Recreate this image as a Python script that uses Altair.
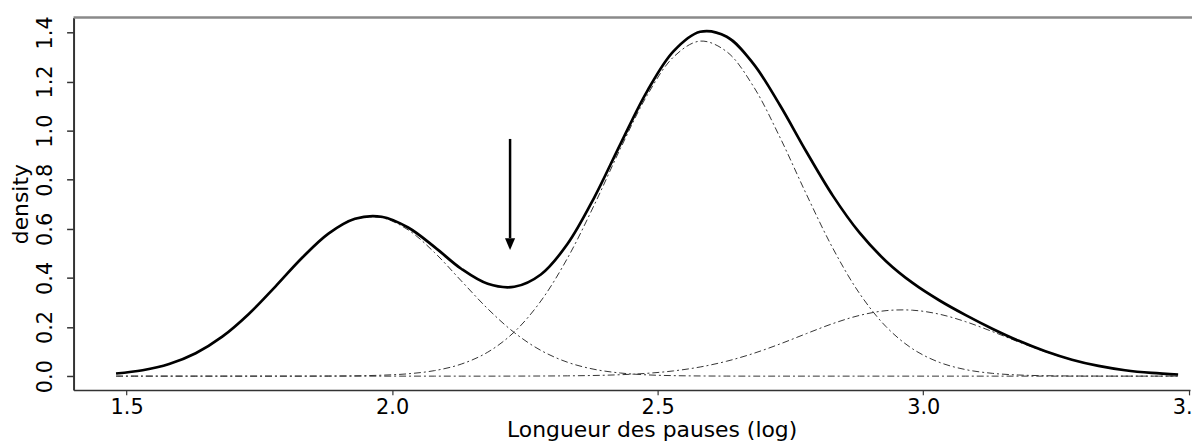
import altair as alt
import pandas as pd

# x grid (log pause length)
x_grid = [1.48, 1.53, 1.58, 1.63, 1.68, 1.73, 1.78, 1.83, 1.88, 1.93,
          1.98, 2.03, 2.08, 2.13, 2.18, 2.23, 2.28, 2.33, 2.38, 2.43,
          2.48, 2.53, 2.58, 2.63, 2.68, 2.73, 2.78, 2.83, 2.88, 2.93,
          2.98, 3.03, 3.08, 3.13, 3.18, 3.23, 3.28, 3.33, 3.38, 3.43, 3.48]

# mixture density (solid line)
total = [0.0107, 0.0241, 0.0495, 0.0933, 0.1607, 0.2532, 0.3648, 0.4811, 0.5805, 0.6410,
         0.6492, 0.6053, 0.5254, 0.4373, 0.3760, 0.3640, 0.4140, 0.5379, 0.7254, 0.9462,
         1.1599, 1.3236, 1.4025, 1.3823, 1.2731, 1.1043, 0.9139, 0.7342, 0.5842, 0.4682,
         0.3796, 0.3090, 0.2483, 0.1932, 0.1437, 0.1012, 0.0670, 0.0416, 0.0241, 0.0131, 0.0066]

# components (dash-dot lines)
comp1 = [0.0107, 0.0241, 0.0495, 0.0933, 0.1607, 0.2532, 0.3648, 0.4810, 0.5800, 0.6396,
         0.6454, 0.5957, 0.5028, 0.3883, 0.2743, 0.1773, 0.1048, 0.0567, 0.0280, 0.0127,
         0.0052, 0.0020, 0.0007, 0.0002, 0, 0, 0, 0, 0, 0,
         0, 0, 0, 0, 0, 0, 0, 0, 0, 0, 0]
comp2 = [0, 0, 0, 0, 0, 0, 0, 0.0001, 0.0005, 0.0014,
         0.0038, 0.0096, 0.0226, 0.0490, 0.0977, 0.1800, 0.3059, 0.4800, 0.6947, 0.9277,
         1.1432, 1.3002, 1.3645, 1.3213, 1.1808, 0.9735, 0.7407, 0.5200, 0.3369, 0.2015,
         0.1111, 0.0565, 0.0266, 0.0115, 0.0046, 0.0017, 0.0006, 0.0002, 0, 0, 0]
comp3 = [0, 0, 0, 0, 0, 0, 0, 0, 0, 0,
         0, 0, 0, 0, 0, 0.0002, 0.0005, 0.0012, 0.0027, 0.0058,
         0.0115, 0.0214, 0.0373, 0.0608, 0.0923, 0.1308, 0.1732, 0.2142, 0.2473, 0.2667,
         0.2685, 0.2525, 0.2217, 0.1817, 0.1391, 0.0995, 0.0664, 0.0414, 0.0241, 0.0131, 0.0066]

# arrow marking the valley
arrow_x = [2.222]
arrow_top = [0.966]
arrow_base = [0.562]
arrow_head = [0.5375]

x_ticks = [1.5, 2.0, 2.5, 3.0, 3.5]
y_ticks = [0.0, 0.2, 0.4, 0.6, 0.8, 1.0, 1.2, 1.4]
x_domain = [1.4, 3.5024]
y_domain = [-0.056, 1.461]

W = 1124
H = 375
FONT = "DejaVu Sans"

df_total = pd.DataFrame({"x": x_grid, "y": total})
rows = []
for name, vals in [("c1", comp1), ("c2", comp2), ("c3", comp3)]:
    for xv, yv in zip(x_grid, vals):
        rows.append({"x": xv, "y": yv, "comp": name})
df_comp = pd.DataFrame(rows)
df_arrow = pd.DataFrame({"x": arrow_x, "y": arrow_top, "y2": arrow_base, "yh": arrow_head})

xscale = alt.Scale(domain=x_domain, nice=False, zero=False)
yscale = alt.Scale(domain=y_domain, nice=False, zero=False)

xaxis = alt.Axis(values=x_ticks, format=".1f", title="Longueur des pauses (log)",
                 grid=False, domainColor="#333333", domainWidth=1.5,
                 tickColor="#333333", tickSize=5, tickWidth=1.2,
                 labelFont=FONT, labelFontSize=21, labelColor="black", labelPadding=2,
                 labelFlush=False, labelOverlap=False,
                 titleFont=FONT, titleFontSize=22, titleFontWeight="normal", titleColor="black",
                 titleX=582, titleY=47, titleAlign="center", titleBaseline="alphabetic")
yaxis = alt.Axis(values=y_ticks, format=".1f", title="density",
                 grid=False, domainColor="#333333", domainWidth=2,
                 tickColor="#333333", tickSize=7, tickWidth=1.5,
                 labelFont=FONT, labelFontSize=21, labelColor="black",
                 labelAngle=270, labelAlign="center", labelBaseline="alphabetic",
                 labelPadding=15, labelFlush=False, labelOverlap=False,
                 titleFont=FONT, titleFontSize=22, titleFontWeight="normal", titleColor="black",
                 titleAngle=270, titleX=-46, titleY=H / 2, titleAlign="center",
                 titleBaseline="alphabetic")

comps = alt.Chart(df_comp).mark_line(
    color="#333333", strokeWidth=1, strokeDash=[7, 3, 2, 3], interpolate="catmull-rom"
).encode(
    x=alt.X("x:Q", scale=xscale, axis=xaxis),
    y=alt.Y("y:Q", scale=yscale, axis=yaxis),
    detail="comp:N",
)

main = alt.Chart(df_total).mark_line(
    color="black", strokeWidth=2.7, interpolate="catmull-rom"
).encode(x=alt.X("x:Q", scale=xscale), y=alt.Y("y:Q", scale=yscale))

shaft = alt.Chart(df_arrow).mark_rule(color="black", strokeWidth=2.5).encode(
    x=alt.X("x:Q", scale=xscale), y=alt.Y("y:Q", scale=yscale), y2="y2:Q"
)
head = alt.Chart(df_arrow).mark_point(
    shape="M-0.85,-1L0.85,-1L0,1Z", size=144, filled=True, color="black", opacity=1
).encode(x=alt.X("x:Q", scale=xscale), y=alt.Y("yh:Q", scale=yscale))

top_border = alt.Chart(alt.Data(values=[{}])).mark_rule(
    color="#8a8a8a", strokeWidth=2.5
).encode(x=alt.value(0), x2=alt.value(W + 4), y=alt.value(0))

chart = alt.layer(comps, main, shaft, head, top_border).properties(
    width=W, height=H,
    padding={"left": 66, "top": 8, "right": 2, "bottom": 52},
    autosize=alt.AutoSizeParams(type="none"),
).configure_view(stroke=None)

chart.save("out.html", embed_options={"renderer": "svg", "actions": False})
